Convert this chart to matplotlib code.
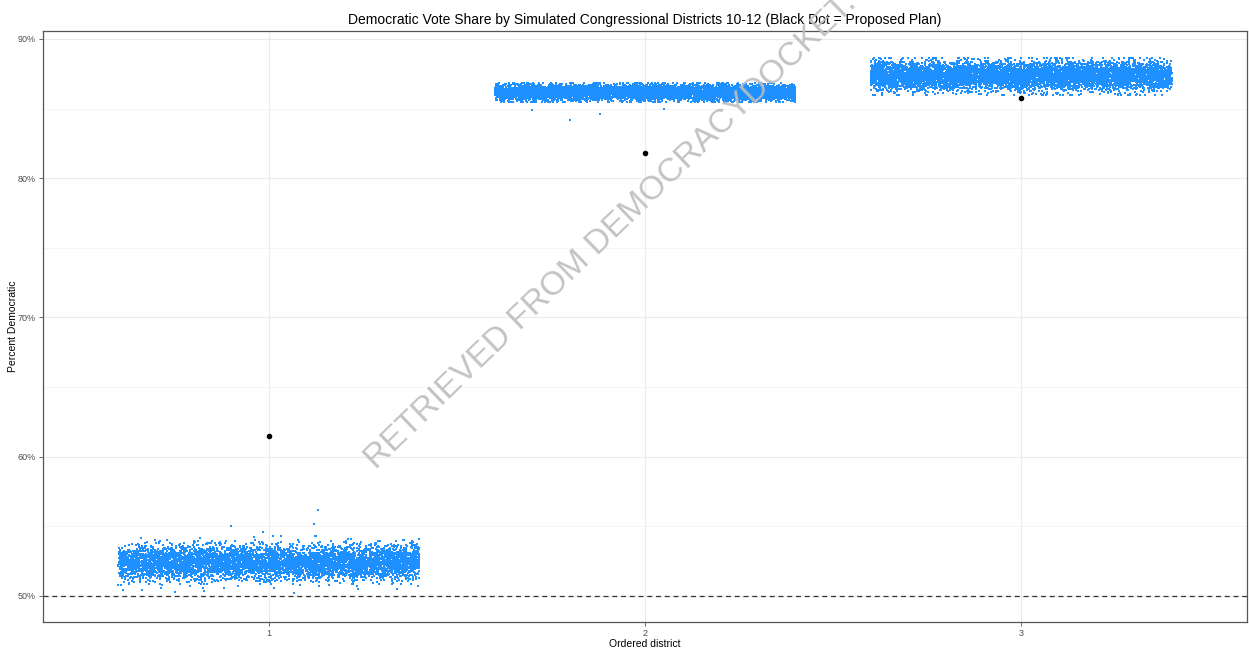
import matplotlib

matplotlib.use("Agg")
import matplotlib.pyplot as plt
import numpy as np
from matplotlib.ticker import FixedLocator, FuncFormatter

plt.rcParams["font.family"] = ["Liberation Sans", "DejaVu Sans"]

# ordered districts and the proposed plan's vote share (percent)
districts = [1, 2, 3]
proposed_share = [61.5, 81.8, 85.75]

# simulated ensemble summary per district: centre, spread, hard range (percent)
sim_center = [52.4, 86.15, 87.35]
sim_spread = [0.6, 0.28, 0.5]
sim_low = [50.1, 85.5, 86.0]
sim_high = [54.6, 86.8, 88.6]
sim_count = [6000, 7000, 7000]

# stray simulated plans outside the main bands
stray_district = [1, 1, 1, 2, 2, 2, 2]
stray_offset = [0.13, 0.12, -0.1, -0.2, -0.12, -0.3, 0.05]
stray_share = [56.15, 55.15, 55.0, 84.15, 84.6, 84.9, 84.95]

JITTER = 0.4
BLUE = "#1E90FF"

rng = np.random.default_rng(7)
xs, ys = [], []
for d, c, s, lo, hi, n in zip(districts, sim_center, sim_spread, sim_low, sim_high, sim_count):
    y = np.clip(rng.normal(c, s, n), lo, hi)
    x = d + rng.uniform(-JITTER, JITTER, n)
    xs.append(x)
    ys.append(y)
xs.append(np.array(stray_district) + np.array(stray_offset))
ys.append(np.array(stray_share))
x_all = np.concatenate(xs)
y_all = np.concatenate(ys)

fig = plt.figure(figsize=(12.49, 6.51), dpi=100)
ax = fig.add_axes([43 / 1249, 29 / 651, (1247 - 43) / 1249, (620 - 29) / 651])

ax.scatter(x_all, y_all / 100, s=1.0, marker="s", color=BLUE, linewidths=0, zorder=2)
ax.scatter(districts, np.array(proposed_share) / 100, s=9, color="black", zorder=3)
ax.axhline(0.5, color="#333333", linestyle=(0, (4, 3)), linewidth=0.9, zorder=2.5)

ax.set_xlim(0.4, 3.6)
ax.set_ylim(0.4813, 0.9057)
ax.set_xticks(districts)
ax.set_xticklabels([str(d) for d in districts])
ax.yaxis.set_major_locator(FixedLocator([0.5, 0.6, 0.7, 0.8, 0.9]))
ax.yaxis.set_minor_locator(FixedLocator([0.55, 0.65, 0.75, 0.85]))
ax.yaxis.set_major_formatter(FuncFormatter(lambda v, _: f"{v * 100:.0f}%"))

ax.grid(True, which="major", color="#ebebeb", linewidth=0.8, zorder=0)
ax.grid(True, which="minor", axis="y", color="#f2f2f2", linewidth=0.5, zorder=0)
ax.set_axisbelow(True)
for sp in ax.spines.values():
    sp.set_color("#555555")
    sp.set_linewidth(0.9)
ax.tick_params(axis="both", which="major", labelsize=6.5, colors="#555555", length=3, width=0.6,
               labelcolor="#4d4d4d", pad=2)
ax.tick_params(axis="y", which="minor", length=0)

ax.set_xlabel("Ordered district", fontsize=7.5)
ax.set_ylabel("Percent Democratic", fontsize=7.5)
ax.xaxis.set_label_coords(0.5, -0.029)
ax.yaxis.set_label_coords(-0.021, 0.5)
ax.set_title("Democratic Vote Share by Simulated Congressional Districts 10-12 (Black Dot = Proposed Plan)",
             fontsize=10, pad=5)

fig.text(376 / 1249, 1 - 470 / 651, "RETRIEVED FROM DEMOCRACYDOCKET.COM", rotation=44,
         rotation_mode="anchor", ha="left", va="baseline", fontsize=24, color="#bdbdbd",
         alpha=0.9, zorder=10)

fig.savefig("out.png", dpi=100)
